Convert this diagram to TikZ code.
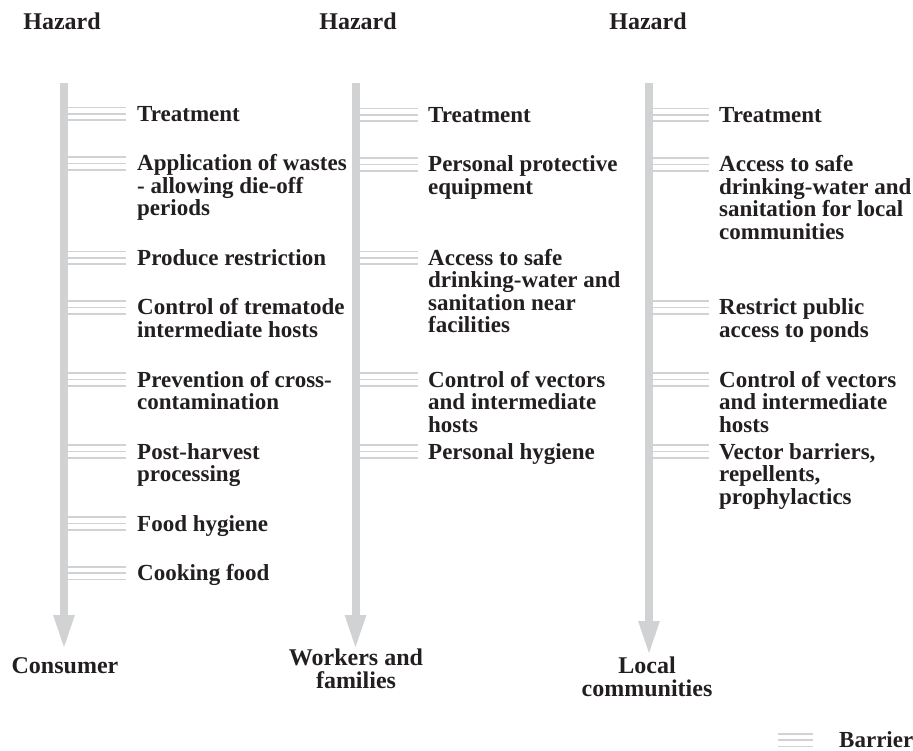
\documentclass[tikz,border=0pt]{standalone}
\usepackage{fontspec}
\setmainfont{Liberation Serif}
\usetikzlibrary{arrows.meta}
\definecolor{bargray}{HTML}{D1D2D4}
\definecolor{ink}{HTML}{231F20}
\newcommand\itemfont{\fontsize{23}{22.5}\selectfont\bfseries}
\newcommand\headfont{\fontsize{24}{23}\selectfont\bfseries}
\begin{document}
\begin{tikzpicture}[x=1pt,y=-1pt,
  itemtext/.style={font=\itemfont, text=ink, anchor=base west, align=left, inner sep=0pt},
  headtext/.style={font=\headfont, text=ink, anchor=base, align=center, inner sep=0pt},
  barline/.style={draw=bargray, line width=1.6pt},
  mainbar/.style={draw=bargray, line width=8pt, -{Triangle[width=19pt,length=35pt]}, color=bargray}]
\useasboundingbox (0,0) rectangle (913,751);

% top labels
\node[headtext] (hz1) at (62,30) {Hazard};
\node[headtext] (hz2) at (358,30) {Hazard};
\node[headtext] (hz3) at (648,30) {Hazard};

% bottom labels (base anchor = last line)
\node[headtext] (end1) at (65,673) {Consumer};
\node[headtext] (end2) at (356,688) {Workers and\\families};
\node[headtext] (end3) at (647,696) {Local\\communities};

% main bars
\coordinate (top1) at (64,83);   \coordinate (tip1) at (64,650);
\coordinate (top2) at (355.5,83); \coordinate (tip2) at (355.5,650);
\coordinate (top3) at (649,83);  \coordinate (tip3) at (649,656);
\draw[mainbar] (top1) -- (tip1);
\draw[mainbar] (top2) -- (tip2);
\draw[mainbar] (top3) -- (tip3);

% column 1
\foreach \y/\n/\t [count=\i] in {
  114/1/{Treatment},
  163.5/3/{Application of wastes\\- allowing die-off\\periods},
  258/1/{Produce restriction},
  307.5/2/{Control of trematode\\intermediate hosts},
  379.5/2/{Prevention of cross-\\contamination},
  451.5/2/{Post-harvest\\processing},
  523.5/1/{Food hygiene},
  573/1/{Cooking food}}{
  \foreach \d in {-6.3,0,6.3}{\draw[barline] (68,\y+\d) -- (126,\y+\d);}
  \node[itemtext] (a\i) at (137,\y+7.5+22.5*\n-22.5) {\t};
}

% column 2
\foreach \y/\n/\t [count=\i] in {
  115/1/{Treatment},
  164.5/2/{Personal protective\\equipment},
  258/4/{Access to safe\\drinking-water and\\sanitation near\\facilities},
  379.5/3/{Control of vectors\\and intermediate\\hosts},
  451.5/1/{Personal hygiene}}{
  \foreach \d in {-6.3,0,6.3}{\draw[barline] (359.5,\y+\d) -- (418,\y+\d);}
  \node[itemtext] (b\i) at (428,\y+7.5+22.5*\n-22.5) {\t};
}

% column 3
\foreach \y/\n/\t [count=\i] in {
  115/1/{Treatment},
  164.5/4/{Access to safe\\drinking-water and\\sanitation for local\\communities},
  307.5/2/{Restrict public\\access to ponds},
  379.5/3/{Control of vectors\\and intermediate\\hosts},
  451.5/3/{Vector barriers,\\repellents,\\prophylactics}}{
  \foreach \d in {-6.3,0,6.3}{\draw[barline] (653,\y+\d) -- (709,\y+\d);}
  \node[itemtext] (c\i) at (719,\y+7.5+22.5*\n-22.5) {\t};
}

% legend
\foreach \d in {-6.3,0,6.3}{\draw[barline] (778,740+\d) -- (813,740+\d);}
\node[itemtext] (legend) at (839,747.5) {Barrier};
\end{tikzpicture}
\end{document}
